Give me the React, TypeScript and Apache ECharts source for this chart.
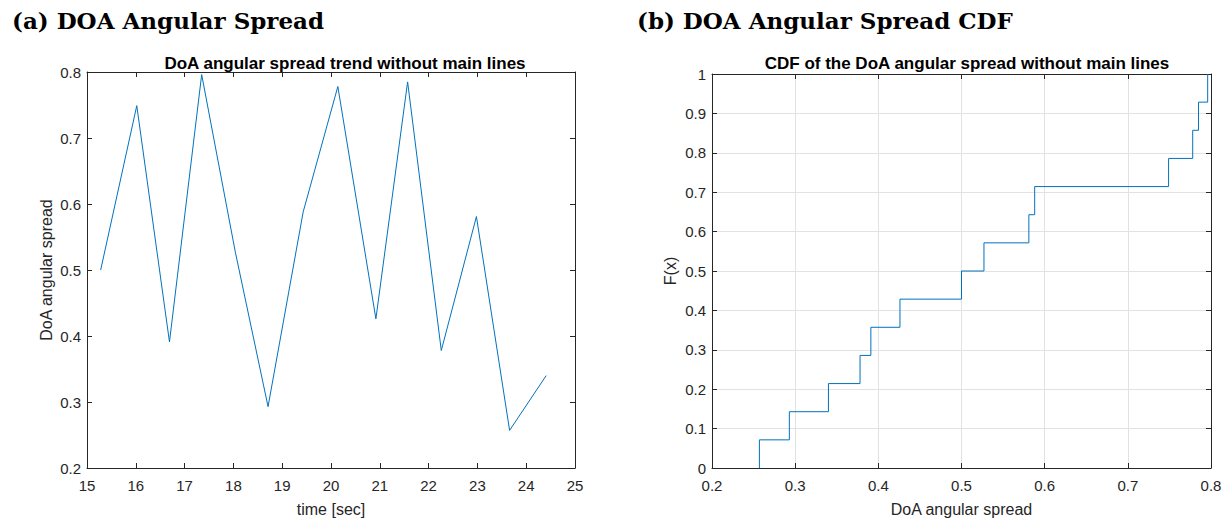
import React, { useEffect, useRef } from "react";
import * as echarts from "echarts";

const timeSec = [15.28, 16.02, 16.69, 17.35, 18.04, 18.71, 19.43, 20.14, 20.92, 21.57, 22.26, 22.98, 23.66, 24.41];
const spread = [0.5, 0.749, 0.391, 0.796, 0.527, 0.293, 0.588, 0.778, 0.426, 0.785, 0.378, 0.581, 0.257, 0.34];

const panelTitles = ["(a) DOA Angular Spread", "(b) DOA Angular Spread CDF"];
const chartTitles = ["DoA angular spread trend without main lines", "CDF of the DoA angular spread without main lines"];
const axisNames = { leftX: "time [sec]", leftY: "DoA angular spread", rightX: "DoA angular spread", rightY: "F(x)" };

const BLUE = "#0072BD";
const INK = "#262626";
const FONT = "'Liberation Sans', Arial, sans-serif";

export default function App() {
  const ref = useRef<HTMLDivElement>(null);
  useEffect(() => {
    document.body.style.margin = "0";
    const chart = echarts.init(ref.current!, undefined, { renderer: "svg" });

    const sorted = [...spread].sort((a, b) => a - b);
    const n = sorted.length;
    const cdf: number[][] = [[sorted[0], 0]];
    sorted.forEach((v, i) => cdf.push([v, (i + 1) / n]));

    const tick = { show: true, inside: true, length: 5, lineStyle: { color: INK, width: 1 } };
    const line = { show: true, onZero: false, lineStyle: { color: INK, width: 1 } };
    const label = { color: INK, fontSize: 15, fontFamily: FONT };
    const nameStyle = { color: INK, fontSize: 16, fontFamily: FONT };
    const grid2Split = { show: true, lineStyle: { color: "#e2e2e2", width: 1 } };

    const mkX = (gi: number, min: number, max: number, interval: number, main: boolean, name?: string, split = false) => ({
      type: "value", gridIndex: gi, min, max, interval,
      position: main ? "bottom" : "top",
      axisLine: line, axisTick: tick,
      axisLabel: main ? { ...label, margin: 10 } : { show: false },
      splitLine: split ? grid2Split : { show: false },
      name: main ? name : undefined, nameLocation: "middle", nameGap: 33, nameTextStyle: nameStyle,
    });
    const mkY = (gi: number, min: number, max: number, interval: number, main: boolean, name?: string, split = false, gap = 40) => ({
      type: "value", gridIndex: gi, min, max, interval,
      position: main ? "left" : "right",
      axisLine: line, axisTick: tick,
      axisLabel: main ? { ...label, margin: 6 } : { show: false },
      splitLine: split ? grid2Split : { show: false },
      name: main ? name : undefined, nameLocation: "middle", nameGap: gap, nameTextStyle: nameStyle,
    });

    chart.setOption({
      animation: false,
      backgroundColor: "#ffffff",
      title: [
        { text: chartTitles[0], left: 340, top: 50, textAlign: "center", textStyle: { fontFamily: FONT, fontSize: 17, fontWeight: "bold", color: "#000" } },
        { text: chartTitles[1], left: 962, top: 50, textAlign: "center", textStyle: { fontFamily: FONT, fontSize: 17, fontWeight: "bold", color: "#000" } },
      ],
      graphic: [
        { type: "text", x: 12, y: 20, style: { text: panelTitles[0], font: "bold 23px 'DejaVu Serif', serif", fill: "#000", verticalAlign: "middle" } },
        { type: "text", x: 637, y: 20, style: { text: panelTitles[1], font: "bold 23px 'DejaVu Serif', serif", fill: "#000", verticalAlign: "middle" } },
      ],
      grid: [
        { left: 87, right: 655, top: 72, bottom: 53, containLabel: false },
        { left: 712, right: 19, top: 74, bottom: 53, containLabel: false },
      ],
      xAxis: [
        mkX(0, 15, 25, 1, true, axisNames.leftX),
        mkX(0, 15, 25, 1, false),
        mkX(1, 0.2, 0.8, 0.1, true, axisNames.rightX, true),
        mkX(1, 0.2, 0.8, 0.1, false),
      ],
      yAxis: [
        mkY(0, 0.2, 0.8, 0.1, true, axisNames.leftY, false, 33),
        mkY(0, 0.2, 0.8, 0.1, false),
        mkY(1, 0, 1, 0.1, true, axisNames.rightY, true, 34),
        mkY(1, 0, 1, 0.1, false),
      ],
      series: [
        {
          type: "line", xAxisIndex: 0, yAxisIndex: 0, showSymbol: false, symbol: "none",
          data: timeSec.map((t, i) => [t, spread[i]]),
          lineStyle: { color: BLUE, width: 1 }, itemStyle: { color: BLUE },
        },
        {
          type: "line", xAxisIndex: 2, yAxisIndex: 2, showSymbol: false, symbol: "none", step: "end",
          data: cdf,
          lineStyle: { color: BLUE, width: 1 }, itemStyle: { color: BLUE },
        },
      ],
    });
    return () => chart.dispose();
  }, []);
  return <div ref={ref} style={{ width: 1230, height: 522 }} />;
}
